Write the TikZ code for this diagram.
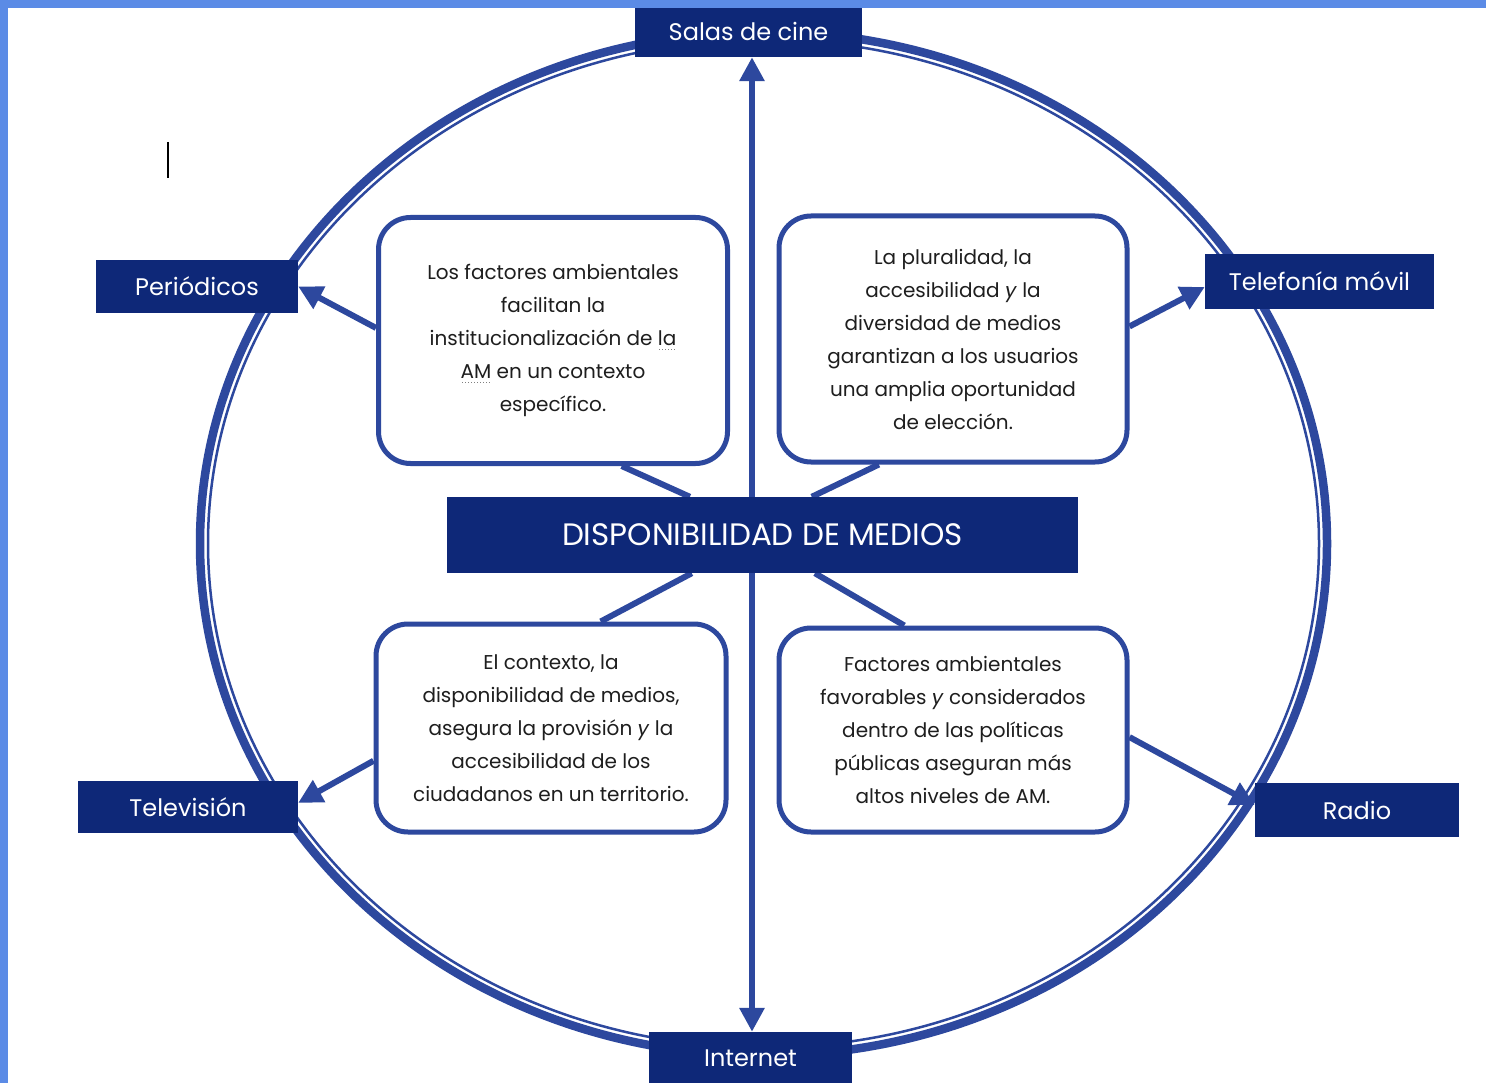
\documentclass[tikz,border=0pt]{standalone}
\usepackage{fontspec}
\setmainfont{Poppins}
\usetikzlibrary{arrows.meta,calc,backgrounds}
\definecolor{navy}{RGB}{14,40,120}
\definecolor{ringblue}{RGB}{45,72,158}
\definecolor{frameblue}{RGB}{91,139,230}
\definecolor{txt}{RGB}{30,30,30}
\newcommand\dotmark[1]{\leavevmode\setbox0\hbox{#1}\rlap{\raisebox{-4pt}{\hbox to \wd0{\color{gray}\leaders\hbox to 3pt{\hss\rule{1pt}{1pt}\hss}\hfill}}}\box0\relax}
\begin{document}
\begin{tikzpicture}[x=1pt,y=-1pt,
 navybox/.style={fill=navy,text=white,inner sep=0pt,font=\fontsize{24}{28}\selectfont},
 infobox/.style={draw=ringblue,line width=5pt,fill=white,rounded corners=32pt,inner sep=0pt,align=center,text=txt,font=\fontsize{20}{33}\selectfont},
 link/.style={ringblue,line width=6pt},
 arr/.style={ringblue,line width=6pt,-{Triangle[width=24pt,length=24pt]}},
]
\path[use as bounding box] (0,0) rectangle (1486,1083);

% outer navy boxes
\node[navybox,minimum width=227pt,minimum height=51pt] (salas) at (748.5,31.5) {Salas de cine};
\node[navybox,minimum width=202pt,minimum height=53pt] (peri) at (197,286.5) {Periódicos};
\node[navybox,minimum width=229pt,minimum height=55pt] (tele) at (1319.5,281.5) {Telefonía móvil};
\node[navybox,minimum width=220pt,minimum height=52pt] (telev) at (188,807) {Televisión};
\node[navybox,minimum width=204pt,minimum height=54pt] (radio) at (1357,810) {Radio};
\node[navybox,minimum width=203pt,minimum height=52pt] (inter) at (750.5,1058) {Internet};
\node[navybox,minimum width=631pt,minimum height=76pt,font=\fontsize{31}{36}\selectfont] (disp) at (762.5,535) {DISPONIBILIDAD DE MEDIOS};

% info boxes
\node[infobox,minimum width=349pt,minimum height=246pt] (tl) at (553,340.5)
 {Los factores ambientales\\facilitan la\\institucionalización de \dotmark{la}\\\dotmark{AM} en un contexto\\específico.};
\node[infobox,minimum width=348pt,minimum height=246pt] (tr) at (953,339)
 {La pluralidad, la\\accesibilidad \textit{y} la\\diversidad de medios\\garantizan a los usuarios\\una amplia oportunidad\\de elección.};
\node[infobox,minimum width=350pt,minimum height=208pt] (bl) at (551,728)
 {El contexto, la\\disponibilidad de medios,\\asegura la provisión \textit{y} la\\accesibilidad de los\\ciudadanos en un territorio.};
\node[infobox,minimum width=348pt,minimum height=204pt] (br) at (953,730)
 {Factores ambientales\\favorables \textit{y} considerados\\dentro de las políticas\\públicas aseguran más\\altos niveles de AM.};

\coordinate (vx) at (752,0);

\begin{scope}[on background layer]
\fill[white] (0,0) rectangle (1486,1083);
% double ring
\draw[ringblue,line width=8.5pt] (763.5,543.6) ellipse [x radius=563.5pt, y radius=512pt];
\draw[ringblue,line width=2.5pt] (763.5,543.6) ellipse [x radius=555.5pt, y radius=504pt];
% vertical arrows
\draw[arr] (disp.north -| vx) -- (salas.south -| vx);
\draw[arr] (disp.south -| vx) -- (inter.north -| vx);
% links between center and info boxes
\draw[link] ($(tl.south west)!0.694!(tl.south east)$) -- ($(disp.north west)!0.385!(disp.north east)$);
\draw[link] ($(tr.south west)!0.29!(tr.south east)$) -- ($(disp.north west)!0.578!(disp.north east)$);
\draw[link] ($(disp.south west)!0.388!(disp.south east)$) -- ($(bl.north west)!0.64!(bl.north east)$);
\draw[link] ($(disp.south west)!0.583!(disp.south east)$) -- ($(br.north west)!0.362!(br.north east)$);
% arrows to media
\draw[arr] ($(tl.north west)!0.45!(tl.south west)$) -- (peri.east);
\draw[arr] ($(tr.north east)!0.45!(tr.south east)$) -- ($(tele.north west)!0.6!(tele.south west)$);
\draw[arr] ($(bl.north west)!0.654!(bl.south west)$) -- ($(telev.north east)!0.42!(telev.south east)$);
\draw[arr] ($(br.north east)!0.534!(br.south east)$) -- ($(radio.north west)!0.41!(radio.south west)$);
\end{scope}

% cursor mark
\draw[black,line width=2.5pt] (168,142) -- (168,178);
% frame bands
\fill[frameblue] (0,0) rectangle (8,1083);
\fill[frameblue] (0,0) rectangle (1486,8);
\end{tikzpicture}
\end{document}
